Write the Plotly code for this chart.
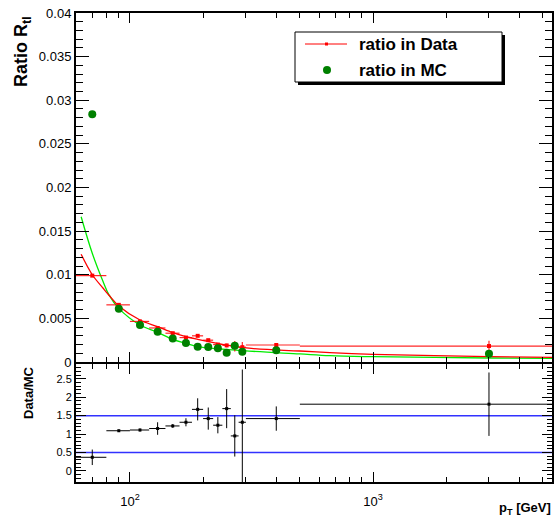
import math
import plotly.graph_objects as go

W, H = 555, 522

# ---------------- data ----------------
pt = [70, 90, 110, 130, 150, 170, 190, 210, 230, 250, 270, 290, 400, 3000]
bin_lo = [60, 80, 100, 120, 140, 160, 180, 200, 220, 240, 260, 280, 300, 500]
bin_hi = [80, 100, 120, 140, 160, 180, 200, 220, 240, 260, 280, 300, 500, 5450]

ratio_data = [0.0099, 0.00655, 0.00465, 0.0039, 0.0033, 0.0028, 0.0030, 0.0025,
              0.0020, 0.0019, 0.0018, 0.0017, 0.00195, 0.00183]
ratio_data_err = [0.0001, 0.0001, 0.0001, 0.0001, 0.0001, 0.0001, 0.0001, 0.0001,
                  0.0001, 0.0002, 0.0006, 0.0006, 0.0002, 0.0006]
ratio_mc = [0.0284, 0.0061, 0.00424, 0.00348, 0.0027, 0.00218, 0.00176, 0.00172,
            0.00157, 0.00107, 0.00186, 0.00118, 0.00134, 0.00095]

data_mc = [0.37, 1.09, 1.11, 1.15, 1.22, 1.32, 1.67, 1.42, 1.24, 1.69, 0.95, 1.32, 1.42, 1.81]
data_mc_err_up = [0.21, 0.03, 0.04, 0.17, 0.05, 0.11, 0.30, 0.30, 0.22, 0.53, 0.56, 1.43, 0.33, 0.86]
data_mc_err_dn = [0.21, 0.03, 0.04, 0.17, 0.05, 0.11, 0.30, 0.30, 0.22, 0.53, 0.56, 1.70, 0.33, 0.86]

fit_x = [63, 70, 77.6, 82, 90, 110, 130, 150, 170, 190, 293, 500, 665, 1000, 3000, 5450]
fit_data = [0.01234, 0.0100, 0.00845, 0.00765, 0.00642, 0.00481, 0.00405, 0.00336,
            0.0029, 0.0026, 0.00164, 0.00126, 0.00107, 0.00088, 0.00061, 0.00053]
fit_mc = [0.01665, 0.01246, 0.0092, 0.0077, 0.00615, 0.00424, 0.0034, 0.0026,
          0.00214, 0.00176, 0.0013, 0.00092, 0.00072, 0.00061, 0.00046, 0.00042]

ref_lines = [0.5, 1.5]

x_minor = [70, 80, 90, 200, 300, 400, 500, 600, 700, 800, 900, 2000, 3000, 4000, 5000]
x_major = [100, 1000]

# --------------- helpers --------------
def fx(p):
    return p / W


def fy(p):
    return 1 - p / H


err_plus = [h - c for h, c in zip(bin_hi, pt)]
err_minus = [c - l for l, c in zip(bin_lo, pt)]

FONT = "Liberation Sans, Arial, sans-serif"

fig = go.Figure()

# fits
fig.add_trace(go.Scatter(x=fit_x, y=fit_mc, mode="lines",
                         line=dict(color="rgb(0,235,0)", width=1.3, shape="spline"),
                         xaxis="x", yaxis="y", showlegend=False, hoverinfo="skip"))
fig.add_trace(go.Scatter(x=fit_x, y=fit_data, mode="lines",
                         line=dict(color="rgb(255,0,0)", width=1.3, shape="spline"),
                         xaxis="x", yaxis="y", showlegend=False, hoverinfo="skip"))

# data ratio
fig.add_trace(go.Scatter(
    x=pt, y=ratio_data, mode="markers",
    marker=dict(color="red", size=4, symbol="square"),
    error_x=dict(type="data", symmetric=False, array=err_plus, arrayminus=err_minus,
                 color="rgba(255,0,0,0.85)", thickness=1.2, width=0),
    error_y=dict(type="data", array=ratio_data_err, color="rgba(255,0,0,0.85)",
                 thickness=1.2, width=0),
    xaxis="x", yaxis="y", showlegend=False, name="ratio in Data"))

# MC ratio
fig.add_trace(go.Scatter(
    x=pt, y=ratio_mc, mode="markers",
    marker=dict(color="rgb(0,128,0)", size=8, symbol="circle"),
    xaxis="x", yaxis="y", showlegend=False, name="ratio in MC"))

# Data/MC
fig.add_trace(go.Scatter(
    x=pt, y=data_mc, mode="markers",
    marker=dict(color="black", size=3, symbol="square"),
    error_x=dict(type="data", symmetric=False, array=err_plus, arrayminus=err_minus,
                 color="black", thickness=1, width=0),
    error_y=dict(type="data", symmetric=False, array=data_mc_err_up,
                 arrayminus=data_mc_err_dn, color="black", thickness=1, width=0),
    xaxis="x2", yaxis="y2", showlegend=False))

shapes = []
for v in ref_lines:
    shapes.append(dict(type="line", xref="x2 domain", yref="y2", x0=0, x1=1, y0=v, y1=v,
                       line=dict(color="rgb(50,50,255)", width=1.5), layer="below"))

# legend (manual)
shapes.append(dict(type="rect", xref="paper", yref="paper",
                   x0=fx(298), x1=fx(505), y0=fy(35), y1=fy(85),
                   fillcolor="black", line=dict(width=0), layer="above"))
shapes.append(dict(type="rect", xref="paper", yref="paper",
                   x0=fx(295), x1=fx(502), y0=fy(32), y1=fy(82),
                   fillcolor="white", line=dict(color="black", width=1), layer="above"))
shapes.append(dict(type="line", xref="paper", yref="paper",
                   x0=fx(305), x1=fx(347), y0=fy(44), y1=fy(44),
                   line=dict(color="red", width=1), layer="above"))
shapes.append(dict(type="rect", xref="paper", yref="paper",
                   x0=fx(325), x1=fx(328), y0=fy(42.5), y1=fy(45.5),
                   fillcolor="red", line=dict(width=0), layer="above"))
shapes.append(dict(type="circle", xref="paper", yref="paper",
                   x0=fx(323), x1=fx(331), y0=fy(66), y1=fy(74),
                   fillcolor="rgb(0,128,0)", line=dict(width=0), layer="above"))

annotations = [
    dict(text="<b>ratio in Data</b>", x=fx(357), y=fy(44), xref="paper", yref="paper",
         xanchor="left", yanchor="middle", showarrow=False,
         font=dict(family=FONT, size=17, color="black")),
    dict(text="<b>ratio in MC</b>", x=fx(357), y=fy(70), xref="paper", yref="paper",
         xanchor="left", yanchor="middle", showarrow=False,
         font=dict(family=FONT, size=17, color="black")),
    dict(text="<b>Ratio R<sub>tl</sub></b>", x=fx(23), y=fy(52), xref="paper", yref="paper",
         xanchor="center", yanchor="middle", textangle=-90, showarrow=False,
         font=dict(family=FONT, size=18, color="black")),
    dict(text="<b>Data/MC</b>", x=fx(28), y=fy(393), xref="paper", yref="paper",
         xanchor="center", yanchor="middle", textangle=-90, showarrow=False,
         font=dict(family=FONT, size=13, color="black")),
    dict(text="<b>p<sub>T</sub> [GeV]</b>", x=fx(553), y=fy(508), xref="paper", yref="paper",
         xanchor="right", yanchor="middle", showarrow=False,
         font=dict(family=FONT, size=13, color="black")),
]

xr = [math.log10(60), math.log10(5450)]
xdom = [fx(76), fx(552)]

common_x = dict(type="log", range=xr, domain=xdom, showgrid=False, zeroline=False,
                showline=True, linecolor="black", linewidth=2, mirror="ticks",
                ticks="inside", tickvals=x_major, ticklen=10, tickwidth=1, tickcolor="black",
                minor=dict(ticks="inside", tickvals=x_minor, ticklen=5, tickwidth=1,
                           tickcolor="black", showgrid=False))

fig.update_layout(
    width=W, height=H,
    margin=dict(l=0, r=0, t=0, b=0),
    paper_bgcolor="white", plot_bgcolor="white",
    font=dict(family=FONT, color="black"),
    xaxis=dict(**common_x, anchor="y", showticklabels=False),
    xaxis2=dict(**common_x, anchor="y2", matches="x",
                ticktext=["10<sup>2</sup>", "10<sup>3</sup>"],
                tickfont=dict(size=13, family=FONT), ticklabelstandoff=6),
    yaxis=dict(domain=[fy(362), fy(13)], range=[0, 0.04], tick0=0, dtick=0.005,
               showgrid=False, zeroline=False, showline=True, linecolor="black",
               linewidth=2, mirror="ticks", ticks="inside", ticklen=13, tickwidth=1,
               tickcolor="black", tickfont=dict(size=13, family=FONT),
               minor=dict(ticks="inside", dtick=0.001, tick0=0, ticklen=7, tickwidth=1,
                          tickcolor="black", showgrid=False),
               anchor="x", automargin=False),
    yaxis2=dict(domain=[fy(482), fy(364)], range=[-0.3, 2.9], tick0=0, dtick=0.5,
                showgrid=False, zeroline=False, showline=True, linecolor="black",
                linewidth=2, mirror="ticks", ticks="inside", ticklen=10, tickwidth=1,
                tickcolor="black", tickfont=dict(size=11, family=FONT),
                minor=dict(ticks="inside", dtick=0.1, tick0=0, ticklen=5, tickwidth=1,
                           tickcolor="black", showgrid=False),
                anchor="x2", automargin=False),
    shapes=shapes,
    annotations=annotations,
)

fig.write_html("out.html")
